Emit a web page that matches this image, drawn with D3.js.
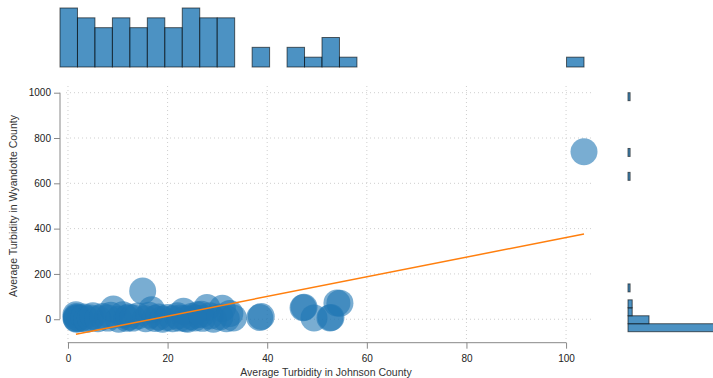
<!DOCTYPE html>
<html>
<head>
<meta charset="utf-8">
<script src="https://cdn.jsdelivr.net/npm/d3@7"></script>
<style>
  body { margin: 0; background: #fff; }
  text { font-family: "Liberation Sans", Arial, sans-serif; }
</style>
</head>
<body>
<svg id="chart" width="713" height="378"></svg>
<script>
// Average turbidity readings: Johnson County (x) vs Wyandotte County (y)
const johnson = [
  1.6, 1.7, 1.8, 1.6, 1.9, 1.7,
  2.5, 3.2, 3.8, 4.5, 5.0,
  6.0, 7.0, 8.0, 8.6,
  9.1, 10.2, 11.0, 11.8, 12.2,
  13.0, 14.0, 15.0, 15.6,
  16.8, 17.5, 18.2, 19.0, 16.3,
  20.0, 21.0, 22.0, 22.5,
  23.2, 24.0, 24.8, 25.5, 26.0, 23.6,
  27.9, 27.0, 28.5, 29.2, 26.8,
  31.0, 30.5, 31.8, 32.5, 33.2,
  38.5, 38.8,
  47.4, 47.2,
  49.4,
  52.6, 54.0, 52.8,
  54.6,
  103.6
];
const wyandotte = [
  5, 12, 2, 20, 8, 0,
  3, 10, 0, 6, 15,
  2, 12, 5, 18,
  45, 0, 20, 4, 10,
  5, 14, 125, 2,
  42, 3, 10, 0, 18,
  8, 2, 15, 5,
  35, 0, 12, 6, 20, 3,
  52, 4, 15, 0, 22,
  48, 10, 2, 25, 6,
  8, 12,
  53, 51,
  6,
  6, 72, 8,
  71,
  739
];

// Marginal histogram counts (30 equal bins over each axis domain)
const topCounts   = [6,5,4,5,4,5,4,6,5,5,0,2,0,2,1,3,1,0,0,0,0,0,0,0,0,0,0,0,0,1];
const rightCounts = [41,10,2,2,0,1,0,0,0,0,0,0,0,0,0,0,0,0,0,1,0,0,1,0,0,0,0,0,0,1];

const xDomain = [-1.6, 103.6];
const yDomain = [-55, 1000];
const xTicks = [0, 20, 40, 60, 80, 100];
const yTicks = [0, 200, 400, 600, 800, 1000];

// Least-squares fit line: y = fitIntercept + fitSlope * x
const fitIntercept = -73.1;
const fitSlope = 4.34;

const xLabel = "Average Turbidity in Johnson County";
const yLabel = "Average Turbidity in Wyandotte County";

const svg = d3.select("#chart");
const blue = "#1f77b4";

const x = d3.scaleLinear().domain(xDomain).range([60, 584]);
const y = d3.scaleLinear().domain(yDomain).range([331.7, 92.7]);

// grid
const grid = svg.append("g").attr("stroke", "#cfcfcf").attr("stroke-dasharray", "1,3");
grid.selectAll("line.v").data(xTicks).join("line")
  .attr("x1", d => x(d)).attr("x2", d => x(d))
  .attr("y1", 86).attr("y2", 343);
grid.selectAll("line.h").data(yTicks).join("line")
  .attr("y1", d => y(d)).attr("y2", d => y(d))
  .attr("x1", 66).attr("x2", 593);

// top histogram (Johnson County)
const nBins = topCounts.length;
const xStep = (xDomain[1] - xDomain[0]) / nBins;
const topH = d3.scaleLinear().domain([0, 6]).range([67, 8]);
svg.append("g").selectAll("rect").data(topCounts.map((c, i) => ({c, i})).filter(d => d.c > 0)).join("rect")
  .attr("x", d => x(xDomain[0] + d.i * xStep))
  .attr("width", d => x(xDomain[0] + (d.i + 1) * xStep) - x(xDomain[0] + d.i * xStep))
  .attr("y", d => topH(d.c))
  .attr("height", d => topH(0) - topH(d.c))
  .attr("fill", blue).attr("fill-opacity", 0.8)
  .attr("stroke", "#000").attr("stroke-opacity", 0.6).attr("stroke-width", 1);

// right histogram (Wyandotte County)
const yStep = (yDomain[1] - yDomain[0]) / rightCounts.length;
const rightW = d3.scaleLinear().domain([0, 40]).range([628, 712]);
svg.append("g").selectAll("rect").data(rightCounts.map((c, i) => ({c, i})).filter(d => d.c > 0)).join("rect")
  .attr("y", d => y(yDomain[0] + (d.i + 1) * yStep))
  .attr("height", d => y(yDomain[0] + d.i * yStep) - y(yDomain[0] + (d.i + 1) * yStep))
  .attr("x", rightW(0))
  .attr("width", d => rightW(d.c) - rightW(0))
  .attr("fill", blue).attr("fill-opacity", 0.8)
  .attr("stroke", "#000").attr("stroke-opacity", 0.6).attr("stroke-width", 1);

// scatter points
const pts = johnson.map((v, i) => ({x: v, y: wyandotte[i]}));
svg.append("g").selectAll("circle").data(pts).join("circle")
  .attr("cx", d => x(d.x)).attr("cy", d => y(d.y)).attr("r", 13.5)
  .attr("fill", blue).attr("fill-opacity", 0.6);

// fit line over the observed x range
const [fx0, fx1] = d3.extent(johnson);
svg.append("line")
  .attr("x1", x(fx0)).attr("y1", y(fitIntercept + fitSlope * fx0))
  .attr("x2", x(fx1)).attr("y2", y(fitIntercept + fitSlope * fx1))
  .attr("stroke", "#ff7f0e").attr("stroke-width", 1.5);

// axes, trimmed to the first and last tick
const fmt = d3.format("d");
const xAxis = svg.append("g").attr("transform", "translate(0,342.7)")
  .call(d3.axisBottom(x).tickValues(xTicks).tickFormat(fmt).tickSize(6).tickPadding(6).tickSizeOuter(0));
xAxis.select(".domain").attr("d", `M${x(0)},0H${x(100)}`);
const yAxis = svg.append("g").attr("transform", "translate(60,0)")
  .call(d3.axisLeft(y).tickValues(yTicks).tickFormat(fmt).tickSize(6).tickPadding(3).tickSizeOuter(0));
yAxis.select(".domain").attr("d", `M0,${y(0)}V${y(1000)}`);

[xAxis, yAxis].forEach(a => {
  a.select(".domain").attr("stroke", "#888");
  a.selectAll(".tick line").attr("stroke", "#888");
  a.selectAll(".tick text").attr("fill", "#222")
    .style("font-family", "'Liberation Sans', Arial, sans-serif").style("font-size", "10px");
});

svg.append("text")
  .attr("x", 326).attr("y", 376)
  .attr("text-anchor", "middle").attr("fill", "#333").style("font-size", "10.5px")
  .text(xLabel);
svg.append("text")
  .attr("transform", "translate(17,206) rotate(-90)")
  .attr("text-anchor", "middle").attr("fill", "#333").style("font-size", "10.5px")
  .text(yLabel);
</script>
</body>
</html>
